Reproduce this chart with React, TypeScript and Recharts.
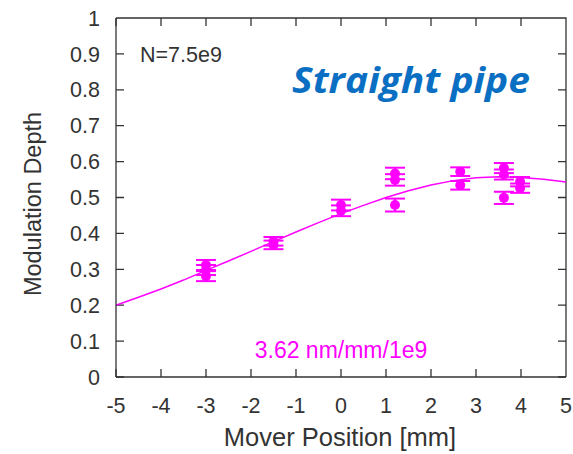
import React from 'react'
import { ComposedChart, Scatter, Line, XAxis, YAxis, ErrorBar, Customized } from 'recharts'

// measured points (mover position mm, modulation depth, error)
const pointX = [-3, -3, -3, -1.5, -1.5, 0, 0, 1.2, 1.2, 1.2, 2.65, 2.65, 3.62, 3.62, 3.62, 3.98, 3.98]
const pointY = [0.312, 0.298, 0.281, 0.378, 0.368, 0.479, 0.463, 0.567, 0.549, 0.479, 0.572, 0.534, 0.582, 0.564, 0.499, 0.544, 0.526]
const pointErr = [0.014, 0.014, 0.014, 0.012, 0.012, 0.015, 0.015, 0.016, 0.016, 0.018, 0.012, 0.012, 0.014, 0.014, 0.017, 0.013, 0.013]

// fit curve
const fitX = [-5, -4.5, -4, -3.5, -3, -2.5, -2, -1.5, -1, -0.5, 0, 0.5, 1, 1.5, 2, 2.5, 3, 3.5, 4, 4.5, 5]
const fitY = [0.2, 0.222, 0.245, 0.27, 0.297, 0.323, 0.35, 0.377, 0.404, 0.43, 0.455, 0.478, 0.5, 0.519, 0.535, 0.547, 0.555, 0.558, 0.556, 0.551, 0.543]

const xTicks = [-5, -4, -3, -2, -1, 0, 1, 2, 3, 4, 5]
const yTicks = [0, 0.1, 0.2, 0.3, 0.4, 0.5, 0.6, 0.7, 0.8, 0.9, 1]
const xMin = -5
const xMax = 5
const yMin = 0
const yMax = 1

const points = pointX.map((x, i) => ({ x, y: pointY[i], err: pointErr[i] }))
const fit = fitX.map((x, i) => ({ x, y: fitY[i] }))

const MAGENTA = '#ff00ff'
const AXIS = '#333333'
const FONT = '"Liberation Sans", Arial, sans-serif'

// chart box, same numbers as the margins / axis sizes below
const W = 573
const H = 454
const M = { top: 18, right: 7, bottom: 0, left: 0 }
const Y_AXIS_W = 116
const X_AXIS_H = 77
const PLOT = { left: M.left + Y_AXIS_W, top: M.top, width: W - M.left - Y_AXIS_W - M.right, height: H - M.top - X_AXIS_H - M.bottom }
const TL = 8

// box and inward ticks (gnuplot style)
const Frame = () => {
  const px = (v: number) => PLOT.left + ((v - xMin) / (xMax - xMin)) * PLOT.width
  const py = (v: number) => PLOT.top + PLOT.height - ((v - yMin) / (yMax - yMin)) * PLOT.height
  const bottom = PLOT.top + PLOT.height
  const right = PLOT.left + PLOT.width
  let d = `M${PLOT.left},${PLOT.top}H${right}V${bottom}`
  xTicks.forEach((t) => {
    d += `M${px(t)},${bottom}v${-TL}M${px(t)},${PLOT.top}v${TL}`
  })
  yTicks.forEach((t) => {
    d += `M${PLOT.left},${py(t)}h${TL}M${right},${py(t)}h${-TL}`
  })
  return <path d={d} stroke={AXIS} strokeWidth={1.3} fill="none" />
}

const Annotations = () => (
  <g fontFamily={FONT}>
    <Frame />
    <text x={33} y={204} fontSize={23.5} fill={AXIS} textAnchor="middle" dominantBaseline="central" transform="rotate(-90 33 204)">
      Modulation Depth
    </text>
    <text x={340} y={437} fontSize={25.5} fill={AXIS} textAnchor="middle" dominantBaseline="central">
      Mover Position [mm]
    </text>
    <text x={140} y={55} fontSize={21.5} fill={AXIS} dominantBaseline="central">
      N=7.5e9
    </text>
    <text x={341} y={350} fontSize={23} fill={MAGENTA} textAnchor="middle" dominantBaseline="central">
      3.62 nm/mm/1e9
    </text>
    <text x={292} y={93} fontSize={36} fill="#0a6fc2" fontFamily='"Open Sans", sans-serif' fontStyle="italic" fontWeight="bold" textLength={238} lengthAdjust="spacingAndGlyphs">
      Straight pipe
    </text>
  </g>
)

const App: React.FC = () => {
  const tickStyle = { fontSize: 21.5, fill: AXIS, fontFamily: FONT }
  return (
    <div style={{ position: 'absolute', left: 0, top: 0, background: '#fff' }}>
      <ComposedChart width={W} height={H} margin={M}>
        <XAxis
          dataKey="x"
          type="number"
          domain={[xMin, xMax]}
          ticks={xTicks}
          height={X_AXIS_H}
          tickSize={0}
          tickMargin={21}
          tickLine={false}
          tick={tickStyle}
          stroke={AXIS}
          strokeWidth={1.3}
        />
        <YAxis
          dataKey="y"
          type="number"
          domain={[yMin, yMax]}
          ticks={yTicks}
          width={Y_AXIS_W}
          tickSize={0}
          tickMargin={16}
          tickLine={false}
          tick={tickStyle}
          stroke={AXIS}
          strokeWidth={1.3}
        />
        <Line data={fit} dataKey="y" stroke={MAGENTA} strokeWidth={1.5} dot={false} isAnimationActive={false} />
        <Scatter data={points} fill={MAGENTA} isAnimationActive={false} shape={(p: any) => <circle cx={p.cx} cy={p.cy} r={5} fill={MAGENTA} />}>
          <ErrorBar dataKey="err" direction="y" width={10} stroke={MAGENTA} strokeWidth={2} />
        </Scatter>
        <Customized component={Annotations} />
      </ComposedChart>
    </div>
  )
}

export default App
